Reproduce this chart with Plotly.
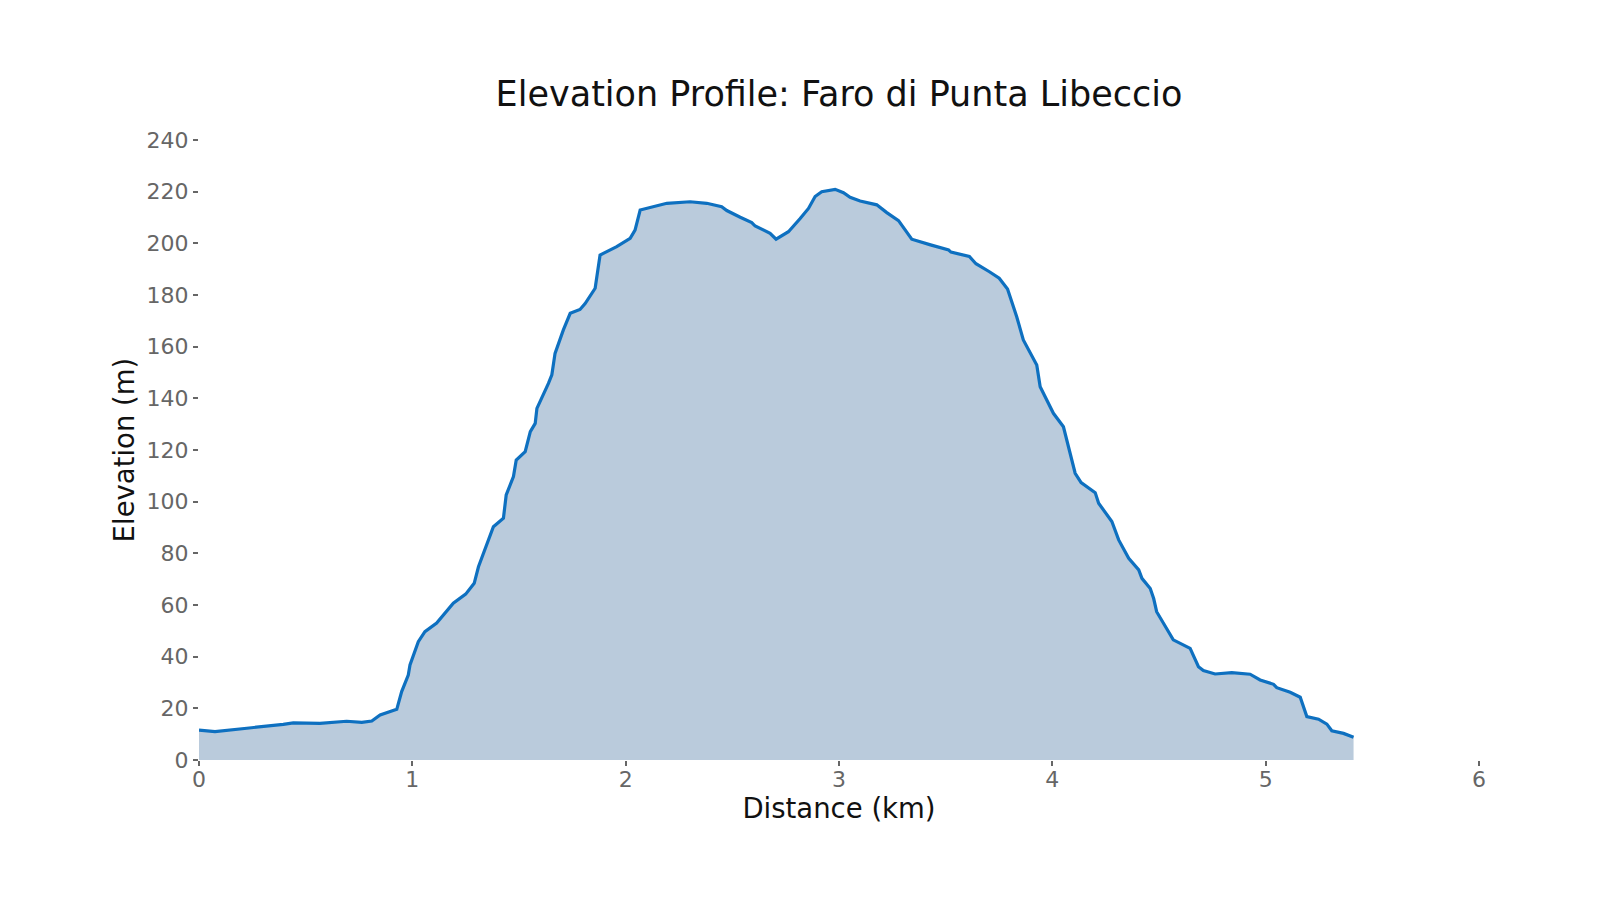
# -*- coding: utf-8 -*-
import plotly.graph_objs as go

# タイトル
TITLE = 'Elevation Profile: Faro di Punta Libeccio'
X_TITLE = 'Distance (km)'
Y_TITLE = 'Elevation (m)'

# 距離 (km)
distance_km = [
    0.000, 0.075, 0.224, 0.348, 0.395, 0.442, 0.567, 0.692, 0.763, 0.810,
    0.849, 0.927, 0.950, 0.981, 0.989, 1.028, 1.059, 1.114, 1.192, 1.250,
    1.290, 1.310, 1.380, 1.427, 1.440, 1.474, 1.487, 1.529, 1.553, 1.576,
    1.584, 1.638, 1.654, 1.669, 1.708, 1.740, 1.786, 1.810, 1.857, 1.880,
    1.958, 2.021, 2.044, 2.068, 2.193, 2.302, 2.380, 2.450, 2.474, 2.537,
    2.591, 2.607, 2.677, 2.705, 2.763, 2.818, 2.857, 2.888, 2.919, 2.982,
    3.021, 3.052, 3.099, 3.177, 3.224, 3.279, 3.341, 3.429, 3.514, 3.525,
    3.611, 3.642, 3.670, 3.705, 3.751, 3.790, 3.833, 3.864, 3.927, 3.943,
    4.005, 4.052, 4.107, 4.135, 4.201, 4.217, 4.279, 4.311, 4.358, 4.405,
    4.420, 4.459, 4.475, 4.489, 4.567, 4.646, 4.685, 4.708, 4.763, 4.841,
    4.927, 4.974, 5.037, 5.052, 5.115, 5.162, 5.193, 5.248, 5.287, 5.310,
    5.365, 5.412,
]

# 標高 (m)
elevation_m = [
    11.6, 11.0, 12.3, 13.2, 13.8, 14.4, 14.2, 15.0, 14.6, 15.1,
    17.4, 19.6, 26.5, 32.9, 36.8, 45.8, 49.7, 53.0, 60.7, 64.2,
    68.4, 74.8, 90.3, 93.6, 102.6, 109.7, 116.1, 119.4, 127.1, 130.3,
    136.1, 145.8, 149.1, 157.4, 166.5, 172.9, 174.4, 176.7, 182.6, 195.5,
    198.7, 201.9, 205.1, 212.9, 215.5, 216.1, 215.5, 214.2, 212.7, 210.1,
    208.0, 206.7, 203.9, 201.6, 204.5, 209.6, 213.5, 218.1, 220.0, 220.9,
    219.6, 217.8, 216.4, 214.9, 211.9, 208.8, 201.6, 199.4, 197.4, 196.6,
    194.9, 192.1, 190.8, 189.0, 186.5, 182.3, 171.6, 162.6, 152.9, 144.5,
    134.2, 129.0, 111.0, 107.4, 103.5, 99.4, 92.3, 85.2, 78.1, 73.6,
    70.3, 66.4, 62.5, 57.4, 46.5, 43.2, 36.1, 34.6, 33.3, 33.8,
    33.2, 31.0, 29.3, 28.0, 26.2, 24.3, 16.8, 15.8, 13.9, 11.3,
    10.3, 8.8,
]

# 軸の目盛り
x_ticks = [0, 1, 2, 3, 4, 5, 6]
y_ticks = [0, 20, 40, 60, 80, 100, 120, 140, 160, 180, 200, 220, 240]

FONT = 'DejaVu Sans'
TICK_COLOR = '#666666'


def profile_trace(x, y):
    return go.Scatter(
        x=x,
        y=y,
        mode='lines',
        line=dict(color='#0e70c0', width=3.2),
        fill='tozeroy',
        fillcolor='#bacbdc',
        showlegend=False,
    )


def axis(title, ticks, rng, standoff, label_standoff=0):
    return dict(
        title=dict(text=title, standoff=standoff,
                   font=dict(family=FONT, size=27.5, color='#111111')),
        range=rng,
        tickvals=ticks,
        ticks='outside',
        ticklen=5,
        tickwidth=1.5,
        tickcolor=TICK_COLOR,
        ticklabelstandoff=label_standoff,
        tickfont=dict(family=FONT, size=22, color=TICK_COLOR),
        showgrid=False,
        zeroline=False,
        showline=False,
    )


fig = go.Figure(data=[profile_trace(distance_km, elevation_m)])
fig.update_layout(
    width=1600,
    height=900,
    title=dict(
        text=TITLE,
        x=0.5,
        xref='paper',
        xanchor='center',
        y=0.905,
        yanchor='middle',
        font=dict(family=FONT, size=35, color='#111111'),
    ),
    xaxis=axis(X_TITLE, x_ticks, [0, 6], 6, -5),
    yaxis=axis(Y_TITLE, y_ticks, [0, 240], 3),
    plot_bgcolor='white',
    paper_bgcolor='white',
    margin=dict(l=191, r=129, t=132, b=148),
)

fig.write_html('out.html')
